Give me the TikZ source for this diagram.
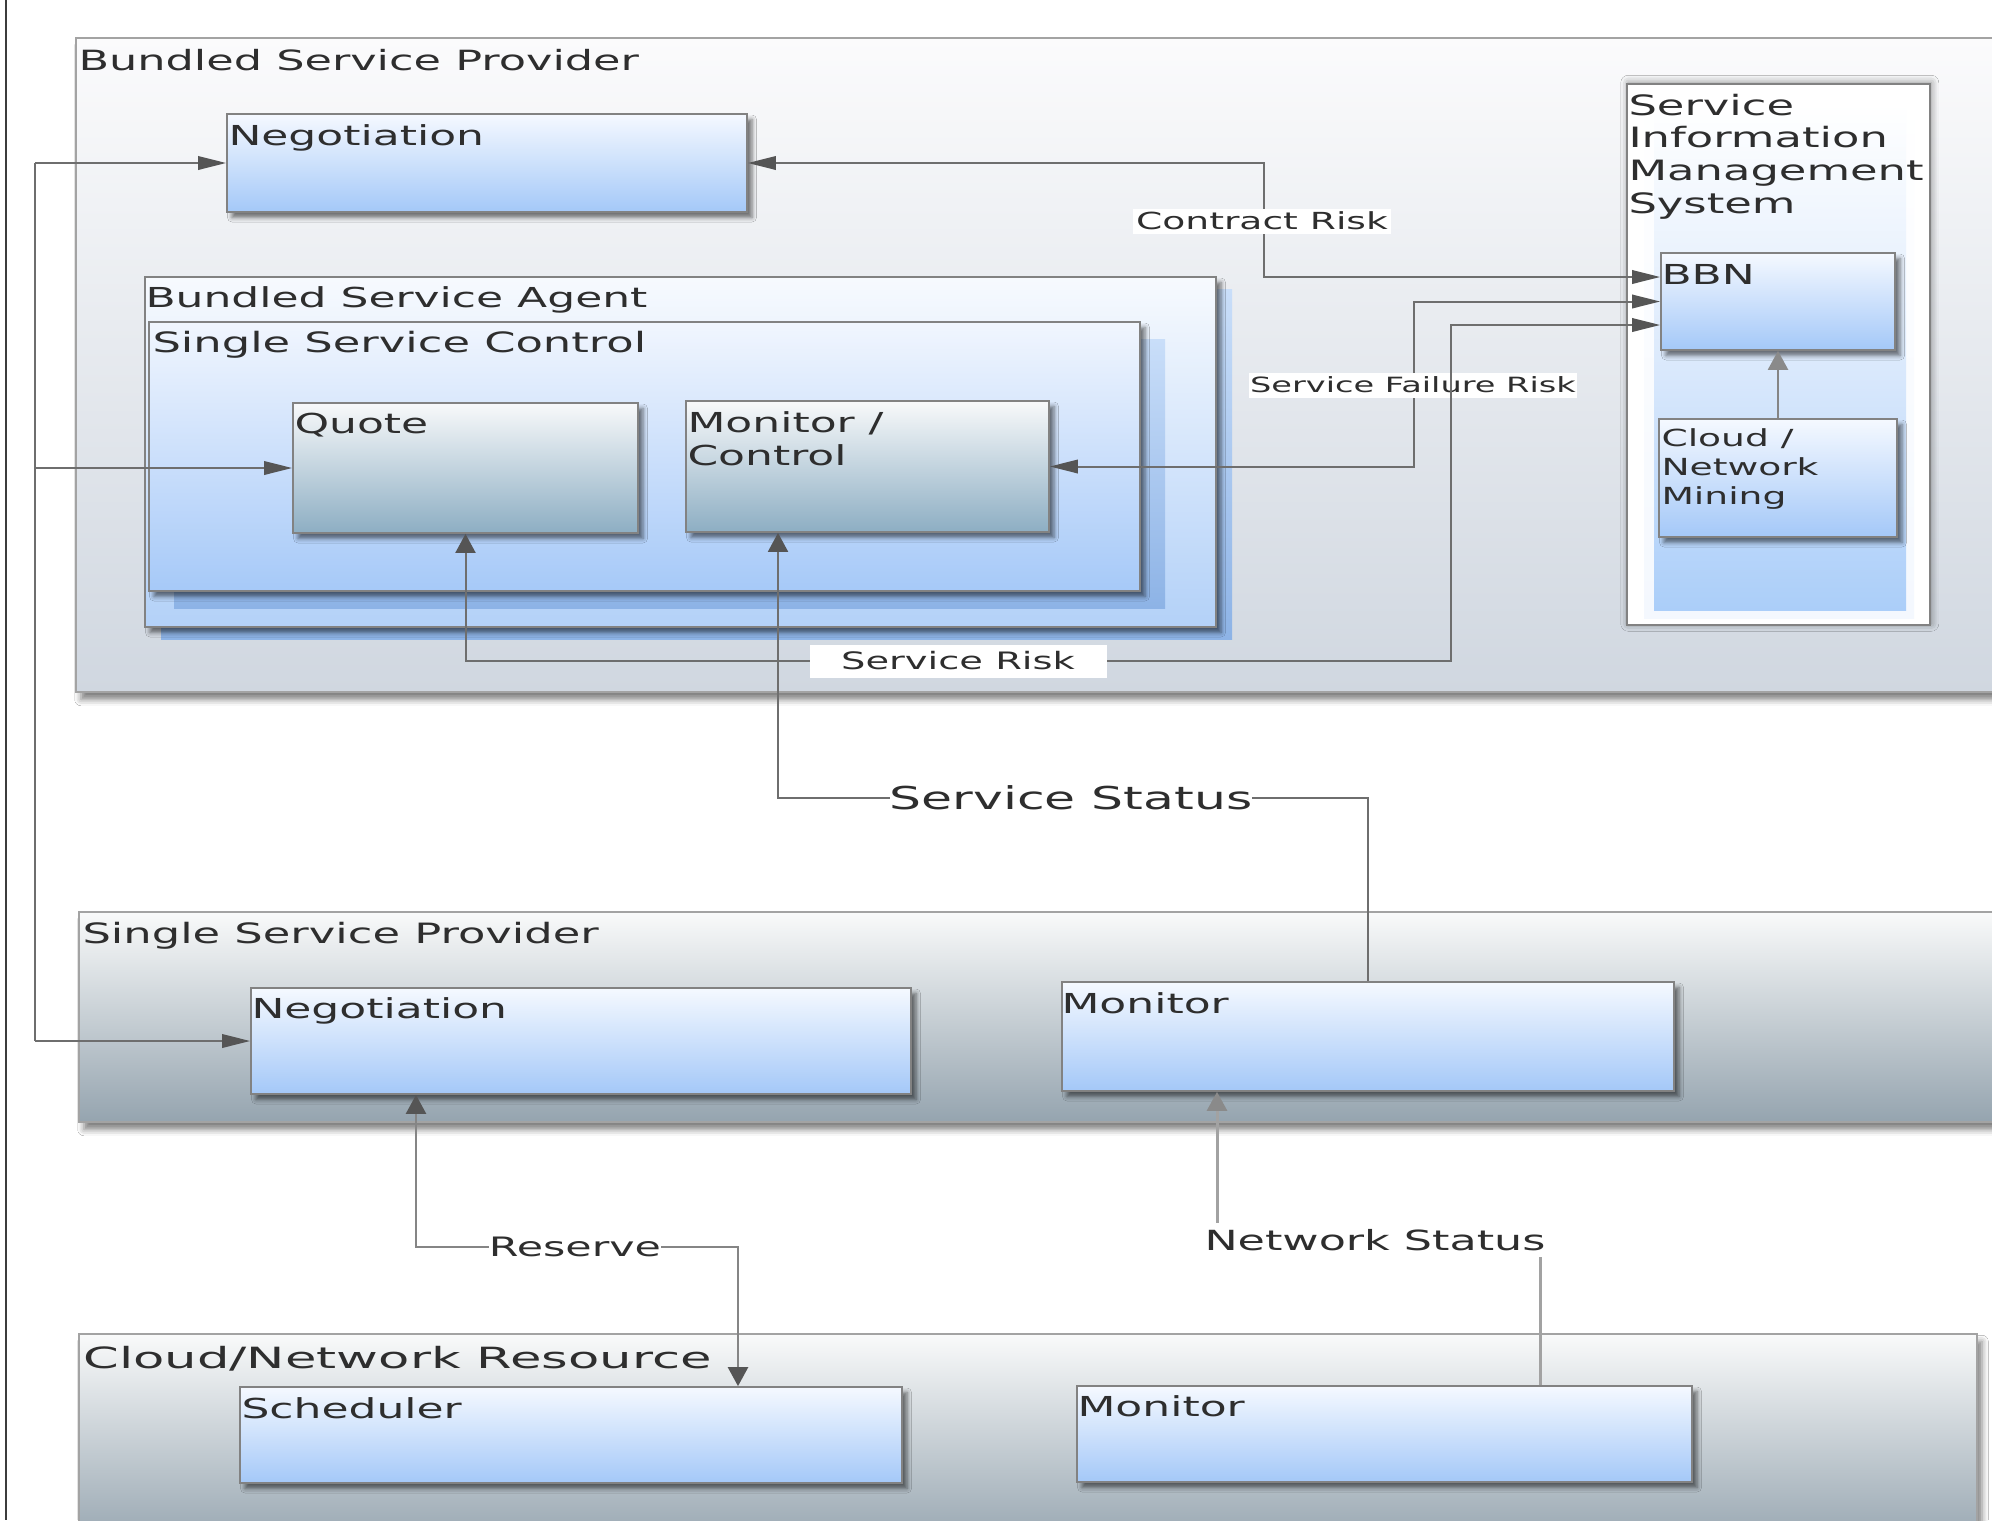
\documentclass[tikz,border=0pt]{standalone}
\usepackage{fontspec}
\setmainfont[FakeStretch=1.6]{DejaVu Sans}
\newfontfamily\widefont[FakeStretch=1.75]{DejaVu Sans}
\usetikzlibrary{fit,shadows.blur,arrows.meta}
\definecolor{txt}{HTML}{2E2E2E}
\definecolor{bluetop}{HTML}{F5F9FF}
\definecolor{bluebot}{HTML}{A4C8F8}
\definecolor{greytop}{HTML}{F8F9FA}
\definecolor{greybot}{HTML}{8DAEC3}
\definecolor{boxline}{HTML}{828282}
\definecolor{contline}{HTML}{A3A3A3}
\definecolor{bsptop}{HTML}{FBFBFC}
\definecolor{bspbot}{HTML}{D0D7E0}
\definecolor{sstop}{HTML}{F9FAFA}
\definecolor{ssbot}{HTML}{95A4AF}
\definecolor{bsatop}{HTML}{F7FAFE}
\definecolor{bsabot}{HTML}{B3D1F8}
\definecolor{ssctop}{HTML}{F1F6FE}
\definecolor{sscbot}{HTML}{A6C9F8}
\definecolor{backtop}{HTML}{C9DEF9}
\definecolor{backbot}{HTML}{8DB3E6}
\definecolor{simsblue}{HTML}{ABCEF9}
\definecolor{simsmid}{HTML}{DCEAFC}
\definecolor{simsedge}{HTML}{F4F8FE}
\definecolor{connc}{HTML}{6E6E6E}
\definecolor{arrc}{HTML}{555555}
\definecolor{connl}{HTML}{A2A2A2}
\definecolor{connm}{HTML}{858585}
\definecolor{arrl}{HTML}{8A8A8A}
\definecolor{framec}{HTML}{3C3C3C}
\newcommand{\fs}[2]{\fontsize{#1}{#2}\selectfont}
\newcommand{\mlines}[1]{\begin{tabular}[t]{@{}l@{}}#1\end{tabular}}
\tikzset{
  harr/.tip={Triangle[length=11.2pt,width=5.4pt,color=arrc]},
  varr/.tip={Triangle[length=7.6pt,width=8pt,color=arrc]},
  varrl/.tip={Triangle[length=7.6pt,width=8pt,color=arrl]},
  cont/.style={draw=contline, line width=0.6pt, inner sep=0pt,
    blur shadow={shadow xshift=2pt, shadow yshift=-3pt, shadow blur radius=2.5pt, shadow opacity=50}},
  bbox/.style={draw=boxline, line width=0.7pt, inner sep=0pt,
    blur shadow={shadow xshift=2pt, shadow yshift=-2.2pt, shadow blur radius=1.8pt, shadow opacity=55}},
  bluebox/.style={bbox, top color=bluetop, bottom color=bluebot},
  greybox/.style={bbox, top color=greytop, bottom color=greybot},
  blbl/.style={anchor=base west, inner sep=0pt, text=txt, font=\fs{11pt}{13.2pt}},
  elbl/.style={fill=white, inner sep=0pt, text=txt},
  conn/.style={draw=connc, line width=0.8pt},
  connL/.style={draw=connl, line width=1.2pt},
  connM/.style={draw=connm, line width=1pt}
}
\begin{document}
\begin{tikzpicture}[x=0.4pt,y=-0.4pt]
\useasboundingbox (0,0) rectangle (1992,1520);
\clip (0,0) rectangle (1992,1520);
\fill[white] (0,0) rectangle (1992,1520);
\draw[framec, line width=1pt] (6,0) -- (6,1520);

% ---------- Bundled Service Provider ----------
\node[cont, top color=bsptop, bottom color=bspbot, fit={(76,38) (2030,692)}] (bsp) {};
\node[blbl, font=\fs{11.15pt}{13.2pt}] (bspT) at (78,70) {Bundled Service Provider};

\node[bluebox, fit={(227,114) (747,212)}] (negA) {};
\node[blbl] (negAT) at (228,145) {Negotiation};

\fill[top color=backtop, bottom color=backbot] (161,289) rectangle (1232,639);
\node[bbox, top color=bsatop, bottom color=bsabot, fit={(145,277) (1216,627)}] (bsa) {};
\node[blbl] (bsaT) at (145,307) {Bundled Service Agent};

\fill[top color=backtop, bottom color=backbot] (174,339) rectangle (1165,608);
\node[bbox, top color=ssctop, bottom color=sscbot, fit={(149,322) (1140,591)}] (ssc) {};
\node[blbl, font=\fs{11.2pt}{13.2pt}] (sscT) at (152,352) {Single Service Control};

\node[greybox, fit={(293,403) (638,533)}] (quote) {};
\node[blbl] (quoteT) at (294,433) {Quote};
\node[greybox, fit={(686,401) (1049,532)}] (mc) {};
\node[blbl] (mcT) at (687,432) {\mlines{Monitor /\\Control}};

\node[draw=boxline, line width=0.7pt, inner sep=0pt, fill=white,
  blur shadow={shadow xshift=0.5pt, shadow yshift=0.5pt, shadow blur radius=3pt, shadow opacity=45},
  fit={(1627,84) (1930,625)}] (sims) {};
\fill[top color=white, bottom color=simsedge] (1644,96) rectangle (1914,618);
\fill[top color=white, bottom color=simsblue, middle color=simsmid] (1654,104) rectangle (1906,610);
\node[blbl, font=\fs{11.2pt}{13.1pt}] (simsT) at (1628,115) {\mlines{Service\\Information\\Management\\System}};

\node[bluebox, fit={(1661,253) (1895,350)}] (bbn) {};
\node[blbl] (bbnT) at (1661,284) {BBN};
\node[bluebox, fit={(1659,419) (1897,537)}] (cnm) {};
\node[blbl, font=\fs{9.4pt}{11.5pt}] (cnmT) at (1661,446.7) {\mlines{Cloud /\\Network\\Mining}};

% ---------- Single Service Provider ----------
\node[cont, top color=sstop, bottom color=ssbot, fit={(79,912) (2030,1122)}] (ssp) {};
\node[blbl, font=\fs{11.2pt}{13.2pt}] (sspT) at (82,943) {Single Service Provider};
\node[bluebox, fit={(251,988) (911,1094)}] (negB) {};
\node[blbl] (negBT) at (251,1018) {Negotiation};
\node[bluebox, fit={(1062,982) (1674,1091)}] (ssmon) {};
\node[blbl] (ssmonT) at (1061,1013) {Monitor};

% ---------- Cloud/Network Resource ----------
\node[cont, top color=sstop, bottom color=ssbot, fit={(79,1334) (1977,1548)}] (cnr) {};
\node[blbl, font=\widefont\fs{11.7pt}{13.2pt}] (cnrT) at (83,1368) {Cloud/Network Resource};
\node[bluebox, fit={(240,1387) (902,1483)}] (sched) {};
\node[blbl] (schedT) at (241,1418) {Scheduler};
\node[bluebox, fit={(1077,1386) (1692,1482)}] (cnrmon) {};
\node[blbl] (cnrmonT) at (1077,1416) {Monitor};

% ---------- connectors ----------
\coordinate (busT) at (35,163);
\coordinate (busB) at (35,1041);
\draw[conn] (busT) -- (busB);
\draw[conn,-harr] (busT) -- (negA.west);
\draw[conn,-harr] (busT |- quote.west) -- (quote.west);
\draw[conn,-harr] (busB) -- (negB.west);

\coordinate (crA) at (1264,163);
\coordinate (crB) at (1264,277);
\draw[conn,harr-harr] (negA.east) -- (crA) -- (crB) -- (bbn.west |- crB);
\node[elbl, inner xsep=1.2pt, minimum height=10pt, font=\fs{9.4pt}{11pt}] (crl) at (1262,221) {Contract Risk};

\coordinate (sfA) at (1414,301.5);
\draw[conn,harr-harr] (mc.east) -| (sfA) -- (bbn.west);
\node[elbl, inner xsep=0.5pt, minimum height=10pt, font=\fs{8.4pt}{10pt}] (sfl) at (1413,385) {Service Failure Risk};

\coordinate (srA) at (1451,661);
\coordinate (srB) at (1451,325);
\draw[conn,varr-harr] (quote.south) |- (srA) -- (srB) -- (bbn.west |- srB);
\node[elbl, minimum width=118.8pt, minimum height=13.2pt, font=\fs{9.6pt}{11pt}] (srl) at (958,661) {Service Risk};

\coordinate (stA) at (778,798);
\coordinate (stB) at (1368,798);
\draw[conn,varr-] (stA |- mc.south) -- (stA) -- (stB) -- (ssmon.north);
\node[elbl, font=\fs{12.6pt}{14pt}] (ssl) at (1071,798) {Service Status};

\coordinate (nsA) at (1540,1240);
\coordinate (nsB) at (1217,1240);
\draw[connL,-varrl] (nsA |- cnrmon.north) -- (nsA) -- (nsB) -- (nsB |- ssmon.south);
\node[elbl, minimum height=13.6pt, font=\fs{11.1pt}{13pt}] (nsl) at (1375,1240) {Network Status};

\coordinate (rsA) at (416,1247);
\coordinate (rsB) at (738,1247);
\draw[connM,varr-varr] (rsA |- negB.south) -- (rsA) -- (rsB) -- (rsB |- sched.north);
\node[elbl, font=\fs{10.7pt}{12.5pt}] (rsl) at (575,1247) {Reserve};

\draw[connM,-varrl] (cnm.north) -- (bbn.south);
\end{tikzpicture}
\end{document}
